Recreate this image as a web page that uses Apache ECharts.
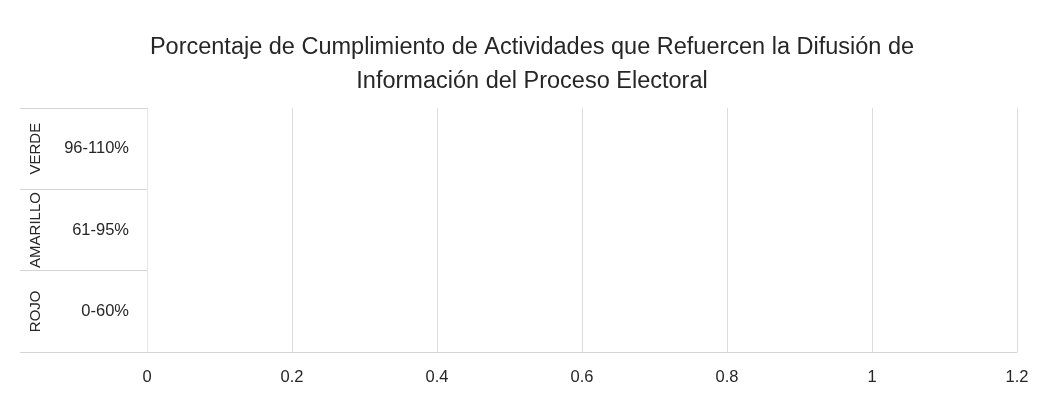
<!DOCTYPE html>
<html><head><meta charset="utf-8">
<script src="https://cdn.jsdelivr.net/npm/echarts@6/dist/echarts.min.js"></script>
<style>html,body{margin:0;padding:0;background:#fff}#c{width:1041px;height:400px}</style>
</head><body><div id="c"></div>
<script>
var titleText = 'Porcentaje de Cumplimiento de Actividades que Refuercen la Difusión de\nInformación del Proceso Electoral';
var rangeLabels = ['0-60%', '61-95%', '96-110%'];
var groupLabels = ['ROJO', 'AMARILLO', 'VERDE'];
var values = [0, 0, 0];
var xTicks = [0, 0.2, 0.4, 0.6, 0.8, 1, 1.2];

var FONT = '"Liberation Sans", sans-serif';
var chart = echarts.init(document.getElementById('c'));
chart.setOption({
  animation: false,
  backgroundColor: '#fff',
  title: {
    text: titleText, left: 527, top: 26, textAlign: 'center',
    textStyle: {fontFamily: FONT, fontSize: 23.5, fontWeight: 'normal', color: '#262626', lineHeight: 34}
  },
  grid: {left: 147, right: 24, top: 108, bottom: 48},
  xAxis: {
    type: 'value', min: 0, max: 1.2, interval: 0.2,
    axisLine: {show: true, lineStyle: {color: '#d4d4d4'}}, axisTick: {show: false},
    axisLabel: {fontFamily: FONT, fontSize: 16.5, color: '#262626', margin: 17,
      formatter: function (v) { var r = Math.round(v * 10) / 10; return xTicks.indexOf(r) >= 0 ? String(r) : ''; }},
    splitLine: {show: true, lineStyle: {color: '#dcdcdc', width: 1}}
  },
  yAxis: [{
    type: 'category', data: rangeLabels, position: 'left',
    axisLine: {show: true, lineStyle: {color: '#e6e6e6'}},
    axisTick: {show: true, length: 127, lineStyle: {color: '#d4d4d4'}},
    axisLabel: {fontFamily: FONT, fontSize: 16.5, color: '#262626', margin: 18, interval: 0},
    splitLine: {show: false}
  }, {
    type: 'category', data: groupLabels, position: 'left', offset: 96,
    axisLine: {show: false}, axisTick: {show: false},
    axisLabel: {fontFamily: FONT, fontSize: 15, color: '#262626', rotate: 90, margin: 8, interval: 0, hideOverlap: false}
  }],
  series: [{type: 'bar', data: values, yAxisIndex: 0, itemStyle: {color: '#4472c4'}}]
});
</script></body></html>
